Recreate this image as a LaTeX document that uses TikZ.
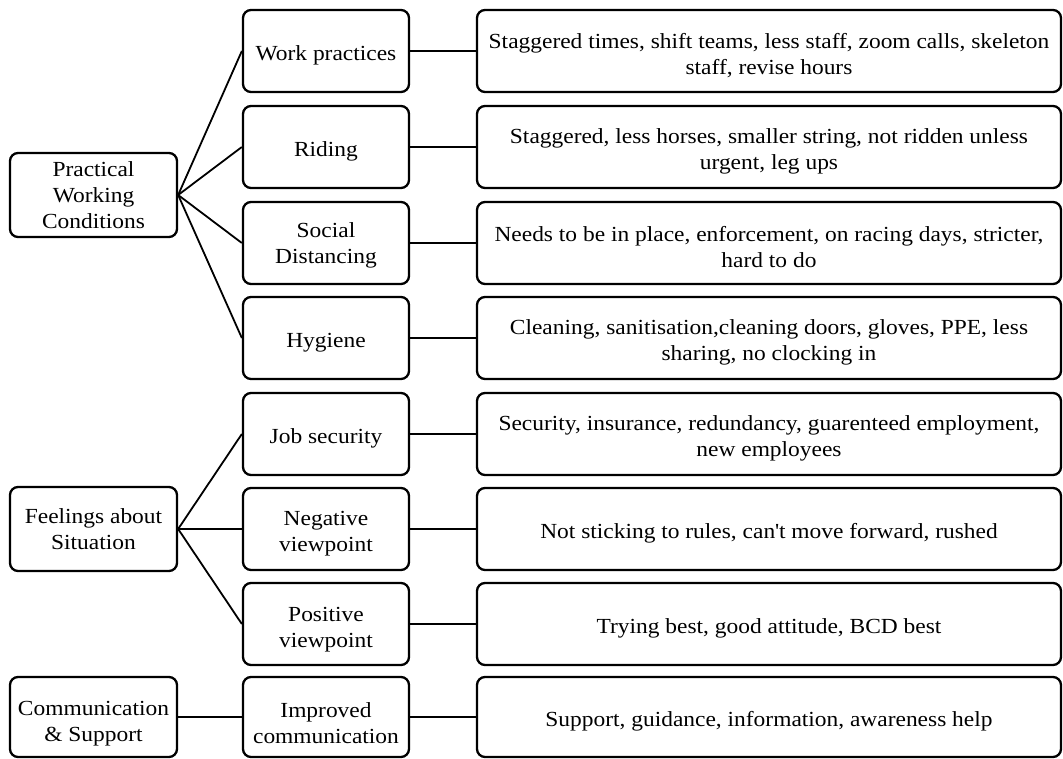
\documentclass[tikz,border=0pt]{standalone}
\usepackage{fontspec}
\setmainfont{Liberation Serif}[FakeStretch=1.09]
\usepackage{tikz}
\tikzset{Lift/.style={execute at begin node={\rule{0pt}{#1}}}}
\tikzstyle{Box}=[draw,rounded corners=8pt,line width=2.3pt,align=center,
inner sep=1pt,font=\fontsize{21.5}{26}\selectfont,Lift=23pt]
\tikzstyle{Theme}=[Box,minimum width=167pt,minimum height=84pt]
\tikzstyle{Sub}=[Box,minimum width=166pt,minimum height=82pt]
\tikzstyle{Code}=[Box,minimum width=584pt,minimum height=82pt]
\tikzstyle{Edge}=[draw,line width=1.8pt]

\begin{document}
\begin{tikzpicture}[x=1pt,y=-1pt]
        \useasboundingbox(0,0)rectangle(1063,759);
        \node[Theme](P)at(93.5,195){Practical\\Working\\Conditions};
        \node[Theme](F)at(93.5,529){Feelings about\\Situation};
        \node[Theme,minimum height=80pt,Lift=53pt](C)at(93.5,717)
            {Communication\\\& Support};
        \node[Sub](1)at(326,51){Work practices};
        \node[Sub](2)at(326,147){Riding};
        \node[Sub,Lift=46pt](3)at(326,243){Social\\Distancing};
        \node[Sub](4)at(326,338){Hygiene};
        \node[Sub](5)at(326,434){Job security};
        \node[Sub,Lift=49pt](6)at(326,529){Negative\\viewpoint};
        \node[Sub,Lift=51pt](7)at(326,624){Positive\\viewpoint};
        \node[Sub,minimum height=80pt,Lift=53pt](8)at(326,717)
            {Improved\\communication};
        \node[Code,Lift=50pt](11)at(769,51)
            {Staggered times, shift teams, less staff, zoom calls, skeleton\\staff, revise hours};
        \node[Code,Lift=50pt](12)at(769,147)
            {Staggered, less horses, smaller string, not ridden unless\\urgent, leg ups};
        \node[Code,Lift=50pt](13)at(769,243)
            {Needs to be in place, enforcement, on racing days, stricter,\\hard to do};
        \node[Code,Lift=50pt](14)at(769,338)
            {Cleaning, sanitisation,cleaning doors, gloves, PPE, less\\sharing, no clocking in};
        \node[Code,Lift=50pt](15)at(769,434)
            {Security, insurance, redundancy, guarenteed employment,\\new employees};
        \node[Code](16)at(769,529)
            {Not sticking to rules, can\textquotesingle t move forward, rushed};
        \node[Code](17)at(769,624){Trying best, good attitude, BCD best};
        \node[Code,minimum height=80pt](18)at(769,717)
            {Support, guidance, information, awareness help};
        \draw[Edge](P.east)--(1.west);
        \draw[Edge](P.east)--(2.west);
        \draw[Edge](P.east)--(3.west);
        \draw[Edge](P.east)--(4.west);
        \draw[Edge](F.east)--(5.west);
        \draw[Edge](F.east)--(6.west);
        \draw[Edge](F.east)--(7.west);
        \draw[Edge](C)--(8);
        \draw[Edge](1)--(11);
        \draw[Edge](2)--(12);
        \draw[Edge](3)--(13);
        \draw[Edge](4)--(14);
        \draw[Edge](5)--(15);
        \draw[Edge](6)--(16);
        \draw[Edge](7)--(17);
        \draw[Edge](8)--(18);
    \end{tikzpicture}
\end{document}
